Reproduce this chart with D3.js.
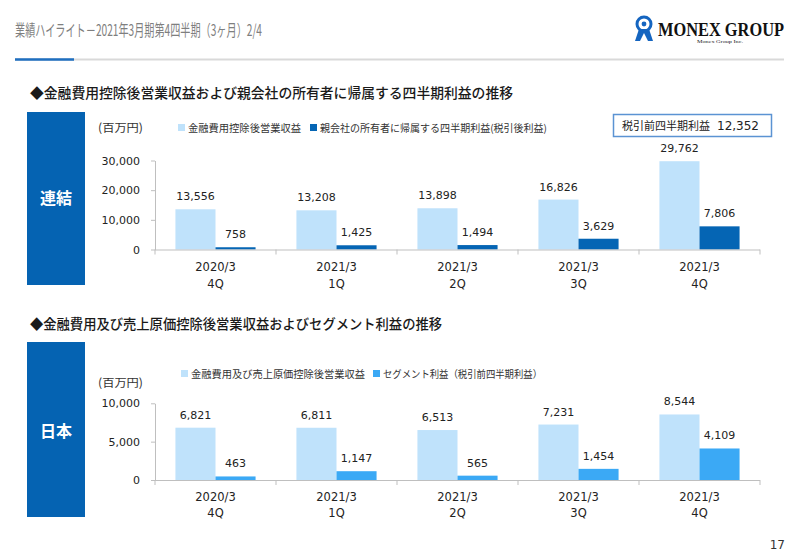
<!DOCTYPE html>
<html><head><meta charset="utf-8">
<script src="https://cdn.jsdelivr.net/npm/d3@7"></script>
<style>
html,body{margin:0;padding:0;background:#fff;}
svg{display:block;}
text{font-family:"DejaVu Sans","Noto Sans CJK JP",sans-serif;}
.jp{font-family:"Noto Sans CJK JP","Noto Sans",sans-serif;}
.serif{font-family:"Liberation Serif","DejaVu Serif",serif;}
</style></head><body>
<svg id="c" width="800" height="553"></svg>
<script>
// ---- data ----
const periods = ["2020/3","2021/3","2021/3","2021/3","2021/3"];
const quarters = ["4Q","1Q","2Q","3Q","4Q"];
const consolidatedRevenue = [13556, 13208, 13898, 16826, 29762];
const consolidatedProfit  = [758, 1425, 1494, 3629, 7806];
const japanRevenue = [6821, 6811, 6513, 7231, 8544];
const japanProfit  = [463, 1147, 565, 1454, 4109];
const topTicks = [0, 10000, 20000, 30000];
const bottomTicks = [0, 5000, 10000];
const topLegend = ["金融費用控除後営業収益", "親会社の所有者に帰属する四半期利益(税引後利益)"];
const bottomLegend = ["金融費用及び売上原価控除後営業収益", "セグメント利益（税引前四半期利益）"];
const pretaxLabel = "税引前四半期利益";
const pretaxValue = 12352;

const svg = d3.select("#c");
const fmt = d3.format(",");

// ---- header ----
svg.append("text").attr("class","jp").attr("x",15).attr("y",36)
  .attr("font-size",16).attr("fill","#7f7f7f")
  .attr("textLength",247).attr("lengthAdjust","spacingAndGlyphs")
  .text("業績ハイライト－2021年3月期第4四半期（3ヶ月）2/4");
svg.append("line").attr("x1",15).attr("x2",784).attr("y1",59.5).attr("y2",59.5)
  .attr("stroke","#d9d9d9").attr("stroke-width",2);
svg.append("line").attr("x1",15).attr("x2",74).attr("y1",59.5).attr("y2",59.5)
  .attr("stroke","#1f6fc0").attr("stroke-width",2.5);

// logo
const logo = svg.append("g");
logo.append("circle").attr("cx",644).attr("cy",24).attr("r",7).attr("fill","none")
  .attr("stroke","#1565c0").attr("stroke-width",3);
logo.append("circle").attr("cx",644).attr("cy",24).attr("r",2.4).attr("fill","#1565c0");
logo.append("path").attr("d","M639,29 L649,29 L653,41 L648,41 L644,33 L640,41 L635,41 Z").attr("fill","#1565c0");
logo.append("text").attr("class","serif").attr("x",658).attr("y",36)
  .attr("font-weight","bold").attr("font-size",18).attr("fill","#111")
  .attr("textLength",126).attr("lengthAdjust","spacingAndGlyphs").text("MONEX GROUP");
logo.append("text").attr("class","serif").attr("x",697).attr("y",43)
  .attr("font-size",4.5).attr("fill","#222").attr("textLength",46).attr("lengthAdjust","spacingAndGlyphs").text("Monex Group Inc.");

// page number
svg.append("text").attr("x",785).attr("y",549).attr("text-anchor","end")
  .attr("font-size",12).attr("fill","#333").text("17");

// ---- panel drawing ----
function panel(o){
  const g = svg.append("g");
  g.append("text").attr("class","jp").attr("x",30).attr("y",o.titleY)
    .attr("font-size",14).attr("fill","#1a1a1a").attr("font-weight",500)
    .attr("textLength",o.titleLen).attr("lengthAdjust","spacingAndGlyphs").text(o.title);
  g.append("rect").attr("x",27).attr("y",o.boxY0).attr("width",58).attr("height",o.boxY1-o.boxY0)
    .attr("fill","#0563b2");
  g.append("text").attr("class","jp").attr("x",56).attr("y",o.boxTextY).attr("text-anchor","middle")
    .attr("font-size",16).attr("font-weight","bold").attr("fill","#fff").text(o.boxText);
  g.append("text").attr("class","jp").attr("x",98).attr("y",o.unitY)
    .attr("font-size",11.5).attr("fill","#333").text("(百万円)")
    .attr("textLength",45).attr("lengthAdjust","spacingAndGlyphs");
  o.legend.forEach((t,i)=>{
    g.append("rect").attr("x",o.legX[i]).attr("y",o.legY-4).attr("width",7).attr("height",7).attr("fill",o.colors[i]);
    g.append("text").attr("class","jp").attr("x",o.legX[i]+10).attr("y",o.legY+3.5)
      .attr("font-size",10.2).attr("fill","#333")
      .attr("textLength",o.legLen[i]).attr("lengthAdjust","spacingAndGlyphs").text(t);
  });

  const idx = d3.range(periods.length);
  const x0 = d3.scaleBand().domain(idx).range([155,760]).paddingInner(0).paddingOuter(0);
  const x1 = d3.scaleBand().domain([0,1]).range([0,x0.bandwidth()]).paddingInner(0).paddingOuter(0.51);
  const y = d3.scaleLinear().domain(o.domain).range(o.range);

  o.series.forEach((s,si)=>{
    g.selectAll(null).data(s).enter().append("rect")
      .attr("x",(d,i)=>x0(i)+x1(si)).attr("width",x1.bandwidth())
      .attr("y",d=>y(d)).attr("height",d=>y(0)-y(d)).attr("fill",o.colors[si]);
    g.selectAll(null).data(s).enter().append("text")
      .attr("x",(d,i)=>x0(i)+x1(si)+x1.bandwidth()/2).attr("y",d=>y(d)-9)
      .attr("text-anchor","middle").attr("font-size",11).attr("fill","#222").text(d=>fmt(d));
  });

  const ya = g.append("g").attr("transform","translate(155,0)")
    .call(d3.axisLeft(y).tickValues(o.ticks).tickSize(4).tickSizeOuter(0).tickPadding(11).tickFormat(fmt));
  ya.select(".domain").attr("stroke","#bfbfbf");
  ya.selectAll(".tick line").attr("stroke","#bfbfbf");
  ya.selectAll(".tick text").attr("font-size",11).attr("fill","#222")
    .style("font-family","'DejaVu Sans',sans-serif");

  g.append("line").attr("x1",155).attr("x2",760).attr("y1",y(0)+0.5).attr("y2",y(0)+0.5)
    .attr("stroke","#bfbfbf");
  const bounds = idx.map(i=>x0(i)).concat([x0(idx[idx.length-1])+x0.bandwidth()]);
  g.selectAll(null).data(bounds).enter().append("line")
    .attr("x1",d=>d).attr("x2",d=>d).attr("y1",y(0)).attr("y2",y(0)+5).attr("stroke","#bfbfbf");
  g.selectAll(null).data(idx).enter().append("text")
    .attr("x",i=>x0(i)+x0.bandwidth()/2).attr("y",o.catY1).attr("text-anchor","middle")
    .attr("font-size",11.5).attr("fill","#222").text(i=>periods[i]);
  g.selectAll(null).data(idx).enter().append("text")
    .attr("x",i=>x0(i)+x0.bandwidth()/2).attr("y",o.catY2).attr("text-anchor","middle")
    .attr("font-size",11.5).attr("fill","#222").text(i=>quarters[i]);
  return g;
}

panel({
  title:"◆金融費用控除後営業収益および親会社の所有者に帰属する四半期利益の推移", titleY:98, titleLen:483,
  boxY0:112, boxY1:285, boxTextY:204, boxText:"連結",
  unitY:132, legend:topLegend, legX:[178,310], legY:128, legLen:[113,227],
  colors:["#bfe2fb","#0565b4"],
  series:[consolidatedRevenue, consolidatedProfit],
  domain:[0,30000], range:[249.5,160.5], ticks:topTicks,
  catY1:271, catY2:288
});

panel({
  title:"◆金融費用及び売上原価控除後営業収益およびセグメント利益の推移", titleY:329, titleLen:412,
  boxY0:342, boxY1:517, boxTextY:437, boxText:"日本",
  unitY:387, legend:bottomLegend, legX:[181,373], legY:374, legLen:[174,159],
  colors:["#bfe2fb","#3ba9f5"],
  series:[japanRevenue, japanProfit],
  domain:[0,10000], range:[480,403.3], ticks:bottomTicks,
  catY1:501, catY2:517
});

// pretax box
svg.append("rect").attr("x",613.5).attr("y",114.5).attr("width",158).attr("height",22)
  .attr("fill","#fff").attr("stroke","#5b93d3").attr("stroke-width",1.5);
svg.append("text").attr("class","jp").attr("x",622).attr("y",130).attr("font-size",11).attr("fill","#222")
  .text(pretaxLabel);
svg.append("text").attr("x",759).attr("y",130).attr("text-anchor","end").attr("font-size",12).attr("fill","#222")
  .text(fmt(pretaxValue));
</script>
</body></html>
